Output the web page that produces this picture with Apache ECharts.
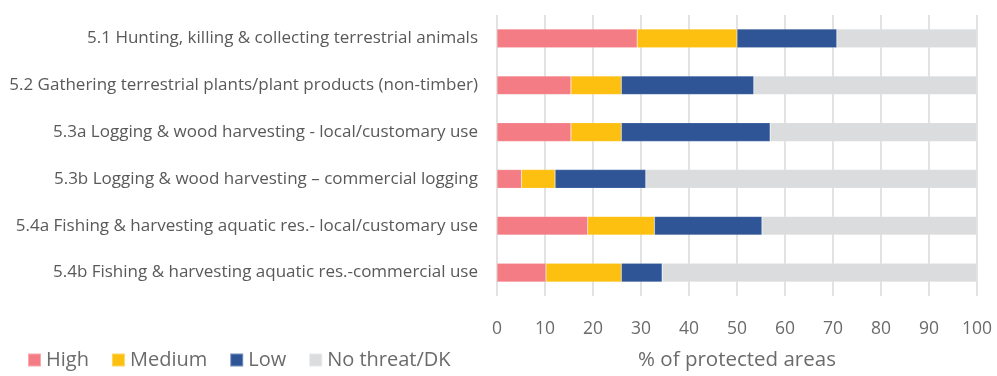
<!DOCTYPE html>
<html>
<head>
<meta charset="utf-8">
<script src="https://cdn.jsdelivr.net/npm/echarts@6/dist/echarts.min.js"></script>
<style>
  html, body { margin: 0; padding: 0; background: #fff; }
  #chart { width: 997px; height: 376px; }
</style>
</head>
<body>
<div id="chart"></div>
<script>
// Threat categories (top to bottom)
const categories = [
  '5.1 Hunting, killing & collecting terrestrial animals',
  '5.2 Gathering terrestrial plants/plant products (non-timber)',
  '5.3a Logging & wood harvesting - local/customary use',
  '5.3b Logging & wood harvesting \u2013 commercial logging',
  '5.4a Fishing & harvesting aquatic res.- local/customary use',
  '5.4b Fishing & harvesting aquatic res.-commercial use'
];

// Share of protected areas (%) per threat level
const high     = [29.2, 15.4, 15.4,  5.1, 18.9, 10.2];
const medium   = [20.8, 10.5, 10.5,  7.0, 13.9, 15.7];
const low      = [20.8, 27.6, 31.0, 18.9, 22.4,  8.5];
const noThreat = [29.2, 46.5, 43.1, 69.0, 44.8, 65.6];

const xTicks = [0, 10, 20, 30, 40, 50, 60, 70, 80, 90, 100];
const seriesNames = ['High', 'Medium', 'Low', 'No threat/DK'];
const seriesColors = ['#f47c84', '#fdc010', '#2f5597', '#dbdcde'];

const FONT = '"Open Sans", "Noto Sans", sans-serif';
const chart = echarts.init(document.getElementById('chart'), null, { renderer: 'canvas' });

const values = [high, medium, low, noThreat];

chart.setOption({
  animation: false,
  backgroundColor: '#ffffff',
  grid: { left: 497, right: 20, top: 15, bottom: 78, containLabel: false },
  legend: {
    left: 22,
    top: 345,
    itemWidth: 13,
    itemHeight: 13,
    itemGap: 22,
    icon: 'rect',
    textStyle: { color: '#6b6b6b', fontSize: 20, fontFamily: FONT },
    data: seriesNames
  },
  xAxis: {
    type: 'value',
    min: 0,
    max: 100,
    interval: 10,
    name: '% of protected areas',
    nameLocation: 'middle',
    nameGap: 54,
    nameTextStyle: { color: '#6b6b6b', fontSize: 20.5, fontFamily: FONT },
    axisLine: { show: false },
    axisTick: { show: false },
    axisLabel: {
      color: '#6b6b6b', fontSize: 17.5, fontFamily: FONT, margin: 24,
      formatter: v => (xTicks.includes(v) ? String(v) : '')
    },
    splitLine: { show: true, lineStyle: { color: '#d9d9d9', width: 1.5 } }
  },
  yAxis: {
    type: 'category',
    inverse: true,
    data: categories,
    axisLine: { show: false },
    axisTick: { show: false },
    axisLabel: { color: '#595959', fontSize: 17, fontFamily: FONT, margin: 19 }
  },
  series: seriesNames.map((name, i) => ({
    name,
    type: 'bar',
    stack: 'total',
    barWidth: '40%',
    itemStyle: { color: seriesColors[i], borderColor: 'rgba(255,255,255,0.35)', borderWidth: 0.5 },
    data: values[i]
  }))
});
</script>
</body>
</html>
